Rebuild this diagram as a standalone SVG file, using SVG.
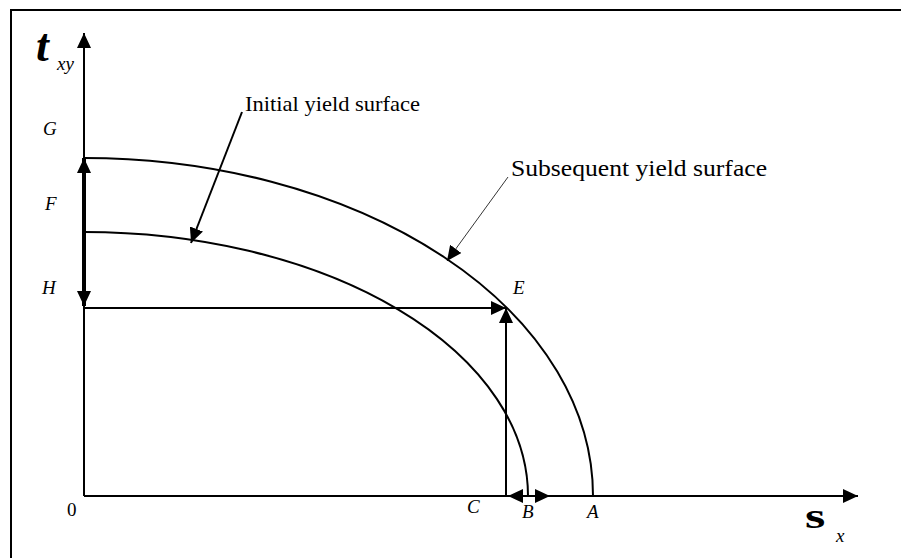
<svg xmlns="http://www.w3.org/2000/svg" width="901" height="558" viewBox="0 0 901 558">
<style>
.ln{stroke:#000;stroke-width:2;fill:none}
text{font-family:"Liberation Serif","Times New Roman",serif;fill:#000}
.lbl{font-style:italic;font-size:19px}
.txt{font-size:22px}
</style>
<defs>
<marker id="ah" markerUnits="userSpaceOnUse" markerWidth="16" markerHeight="14" refX="15" refY="7" orient="auto">
<path d="M0,0 L15,7 L0,14 Z" fill="#000"/>
</marker>
<marker id="ahr" markerUnits="userSpaceOnUse" markerWidth="16" markerHeight="14" refX="1" refY="7" orient="auto">
<path d="M16,0 L1,7 L16,14 Z" fill="#000"/>
</marker>
</defs>
<rect width="901" height="558" fill="#fff"/>
<rect x="11" y="10" width="900" height="560" fill="none" stroke="#000" stroke-width="2"/>
<g id="axes">
<line class="ln" x1="84" y1="496" x2="84" y2="33" marker-end="url(#ah)"/>
<line class="ln" x1="84" y1="496" x2="858" y2="496" marker-end="url(#ah)"/>
<text x="36" y="61" style="font-weight:bold;font-style:italic;font-size:46px">t</text>
<text x="57" y="70" class="lbl">xy</text>
<text x="0" y="0" transform="translate(805,528) scale(1.45,1)" style="font-weight:bold;font-size:36px">s</text>
<text x="836" y="542" class="lbl">x</text>
<text x="67" y="516" style="font-size:19px">0</text>
</g>
<g id="initial-surface">
<path class="ln" d="M84,232 A444,264 0 0 1 528,496"/>
</g>
<g id="subsequent-surface">
<path class="ln" d="M84,158 A509,338 0 0 1 593,496"/>
</g>
<g id="labels">
<text x="43" y="135" class="lbl">G</text>
<text x="45" y="210" class="lbl">F</text>
<text x="42" y="294" class="lbl">H</text>
<text x="513" y="294" class="lbl">E</text>
<text x="467" y="513" class="lbl">C</text>
<text x="522" y="518" class="lbl">B</text>
<text x="587" y="518" class="lbl">A</text>
<text x="245" y="111" class="txt" textLength="175" lengthAdjust="spacingAndGlyphs">Initial yield surface</text>
<text x="511" y="176" class="txt" style="font-size:24px" textLength="256" lengthAdjust="spacingAndGlyphs">Subsequent yield surface</text>
</g>
<g id="connectors">
<line x1="84" y1="232" x2="84" y2="158" stroke="#000" stroke-width="4" marker-end="url(#ah)"/>
<line x1="84" y1="232" x2="84" y2="306" stroke="#000" stroke-width="4" marker-end="url(#ah)"/>
<line class="ln" x1="84" y1="308" x2="506" y2="308" marker-end="url(#ah)"/>
<line class="ln" x1="506" y1="496" x2="506" y2="308" marker-end="url(#ah)"/>
<line class="ln" x1="508" y1="496" x2="550" y2="496" marker-start="url(#ahr)" marker-end="url(#ah)"/>
<line class="ln" x1="242" y1="112" x2="191" y2="243" marker-end="url(#ah)"/>
<line x1="508" y1="177" x2="447" y2="261" stroke="#000" stroke-width="0.8" marker-end="url(#ah)"/>
</g>
</svg>
